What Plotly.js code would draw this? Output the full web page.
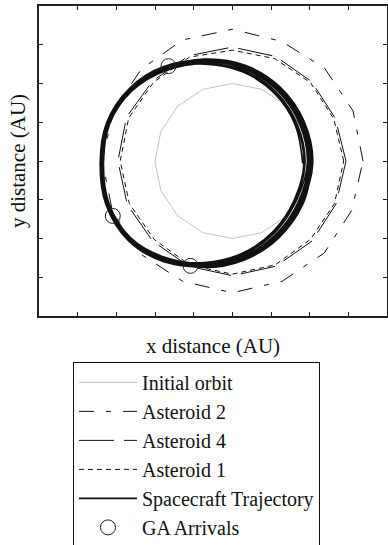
<!DOCTYPE html>
<html>
<head>
<meta charset="utf-8">
<script src="https://cdn.plot.ly/plotly-3.0.1.min.js"></script>
<style>
  html, body { margin: 0; padding: 0; background: #fff; }
  #chart { width: 388px; height: 545px; }
</style>
</head>
<body>
<div id="chart"></div>
<script>
// Heliocentric orbits projected on the ecliptic plane (AU)

// Initial orbit, sampled at 16 points
const initX = [1, 0.924, 0.707, 0.383, 0, -0.383, -0.707, -0.924, -1, -0.924, -0.707, -0.383, 0, 0.383, 0.707, 0.924, 1];
const initY = [0, 0.383, 0.707, 0.924, 1, 0.924, 0.707, 0.383, 0, -0.383, -0.707, -0.924, -1, -0.924, -0.707, -0.383, 0];

// Asteroid 2 orbit
const ast2X = [1.69, 1.561, 1.195, 0.639, 0, -0.647, -1.181, -1.543, -1.68, -1.552, -1.195, -0.643, 0, 0.643, 1.188, 1.543, 1.69];
const ast2Y = [0, 0.647, 1.195, 1.543, 1.70, 1.561, 1.181, 0.639, 0, -0.643, -1.195, -1.552, -1.70, -1.552, -1.188, -0.639, 0];

// Asteroid 4 orbit
const ast4X = [1.47, 1.331, 1.025, 0.559, 0, -0.563, -1.032, -1.368, -1.48, -1.358, -1.032, -0.563, 0, 0.563, 1.032, 1.340, 1.47];
const ast4Y = [0, 0.551, 1.025, 1.349, 1.47, 1.358, 1.032, 0.567, 0, -0.563, -1.032, -1.358, -1.48, -1.358, -1.032, -0.555, 0];

// Asteroid 1 orbit
const ast1X = [1.44, 1.312, 1.011, 0.548, 0, -0.555, -1.018, -1.340, -1.45, -1.331, -1.011, -0.555, 0, 0.555, 1.011, 1.321, 1.44];
const ast1Y = [0, 0.544, 1.011, 1.321, 1.43, 1.340, 1.018, 0.555, 0, -0.551, -1.011, -1.340, -1.46, -1.340, -1.011, -0.548, 0];

// Spacecraft trajectory, one row per revolution
const scRevX = [
  [0.91, 0.816, 0.544, 0.130, -0.36, -0.862, -1.308, -1.605, -1.69, -1.615, -1.330, -0.870, -0.36, 0.122, 0.523, 0.797],
  [0.925, 0.829, 0.553, 0.134, -0.36, -0.857, -1.296, -1.587, -1.671, -1.597, -1.318, -0.865, -0.36, 0.126, 0.532, 0.810],
  [0.94, 0.842, 0.562, 0.138, -0.36, -0.870, -1.320, -1.618, -1.703, -1.628, -1.342, -0.878, -0.36, 0.130, 0.541, 0.823],
  [0.97, 0.869, 0.580, 0.146, -0.36, -0.865, -1.307, -1.598, -1.680, -1.608, -1.329, -0.873, -0.36, 0.138, 0.559, 0.850],
  [0.985, 0.882, 0.589, 0.150, -0.36, -0.878, -1.329, -1.626, -1.709, -1.636, -1.351, -0.886, -0.36, 0.142, 0.568, 0.863],
  [1.00, 0.896, 0.598, 0.154, -0.36, -0.867, -1.306, -1.593, -1.674, -1.603, -1.328, -0.875, -0.36, 0.146, 0.577, 0.877],
  [1.02, 0.913, 0.610, 0.159, -0.36, -0.878, -1.325, -1.616, -1.698, -1.626, -1.347, -0.886, -0.36, 0.151, 0.589, 0.894],
  [1.04, 0.931, 0.622, 0.165, -0.36, -0.868, -1.304, -1.587, -1.666, -1.597, -1.326, -0.876, -0.36, 0.157, 0.601, 0.912, 1.04]
];
const scRevY = [
  [-0.03, 0.457, 0.874, 1.152, 1.25, 1.182, 0.918, 0.486, -0.03, -0.550, -1.000, -1.260, -1.31, -1.193, -0.913, -0.510],
  [-0.03, 0.462, 0.883, 1.161, 1.257, 1.168, 0.906, 0.479, -0.03, -0.543, -0.988, -1.246, -1.317, -1.202, -0.922, -0.515],
  [-0.03, 0.468, 0.892, 1.171, 1.265, 1.202, 0.930, 0.492, -0.03, -0.556, -1.012, -1.280, -1.325, -1.212, -0.931, -0.521],
  [-0.03, 0.479, 0.910, 1.190, 1.28, 1.190, 0.917, 0.483, -0.03, -0.547, -0.999, -1.268, -1.34, -1.231, -0.949, -0.532],
  [-0.03, 0.485, 0.919, 1.200, 1.288, 1.221, 0.939, 0.494, -0.03, -0.558, -1.021, -1.299, -1.348, -1.241, -0.958, -0.538],
  [-0.03, 0.490, 0.928, 1.209, 1.295, 1.193, 0.916, 0.481, -0.03, -0.545, -0.998, -1.271, -1.355, -1.250, -0.967, -0.543],
  [-0.03, 0.497, 0.940, 1.222, 1.305, 1.220, 0.935, 0.491, -0.03, -0.555, -1.017, -1.298, -1.365, -1.263, -0.979, -0.550],
  [-0.03, 0.505, 0.952, 1.235, 1.315, 1.197, 0.914, 0.479, -0.03, -0.543, -0.996, -1.275, -1.375, -1.276, -0.991, -0.558, -0.03]
];

// Gravity-assist arrival points
const gaX = [-0.825, -1.546, -0.541];
const gaY = [1.224, -0.709, -1.353];

const seriesNames = ['Initial orbit', 'Asteroid 2', 'Asteroid 4', 'Asteroid 1', 'Spacecraft Trajectory', 'GA Arrivals'];

const scX = [].concat(...scRevX);
const scY = [].concat(...scRevY);

const serif = 'Liberation Serif, Times New Roman, serif';

const traces = [
  { x: initX, y: initY, name: seriesNames[0], mode: 'lines',
    line: { color: '#c4c4c4', width: 1 } },
  { x: ast2X, y: ast2Y, name: seriesNames[1], mode: 'lines',
    line: { color: '#111', width: 1, dash: '15px,12px,5px,12px' } },
  { x: ast4X, y: ast4Y, name: seriesNames[2], mode: 'lines',
    line: { color: '#111', width: 1, dash: '35px,10px' } },
  { x: ast1X, y: ast1Y, name: seriesNames[3], mode: 'lines',
    line: { color: '#111', width: 1, dash: '5px,4px' } },
  { x: scX, y: scY, name: seriesNames[4], mode: 'lines',
    line: { color: '#111', width: 1.6, shape: 'spline', smoothing: 1 } },
  { x: gaX, y: gaY, name: seriesNames[5], mode: 'markers',
    marker: { symbol: 'circle-open', size: 15, color: '#222', line: { width: 1, color: '#222' } } }
];

const axisCommon = {
  dtick: 0.5, tick0: 0,
  ticks: 'inside', ticklen: 4, tickwidth: 1, tickcolor: '#222',
  showticklabels: false, showgrid: false, zeroline: false,
  showline: true, mirror: 'ticks', linewidth: 1.6, linecolor: '#222',
  fixedrange: true
};

const layout = {
  width: 388, height: 545,
  margin: { l: 39, r: 1, t: 6, b: 229, autoexpand: false },
  paper_bgcolor: '#fff', plot_bgcolor: '#fff',
  font: { family: serif, color: '#111', size: 20 },
  xaxis: Object.assign({}, axisCommon, {
    range: [-2.5, 2.0],
    title: { text: 'x distance (AU)', font: { family: serif, size: 21, color: '#111' }, standoff: 21 }
  }),
  yaxis: Object.assign({}, axisCommon, {
    range: [-2, 2],
    title: { text: 'y distance (AU)', font: { family: serif, size: 21, color: '#111' }, standoff: 6 }
  }),
  showlegend: true,
  legend: {
    x: 0.0977, y: -0.148, xanchor: 'left', yanchor: 'top',
    bgcolor: '#fff', bordercolor: '#111', borderwidth: 1,
    font: { family: serif, size: 20, color: '#111' },
    itemwidth: 58, traceorder: 'normal'
  }
};

Plotly.newPlot('chart', traces, layout, { staticPlot: true, displayModeBar: false });
</script>
</body>
</html>
